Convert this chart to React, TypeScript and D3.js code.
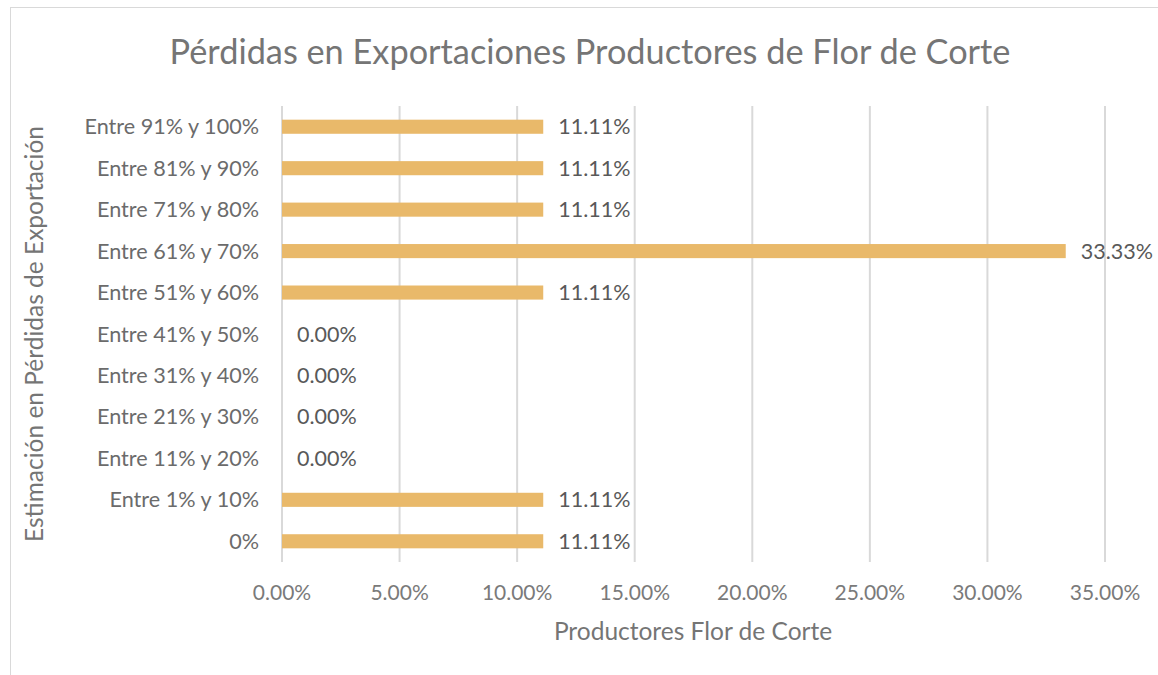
import React from "react";
import * as d3 from "d3";

const categories = [
  "0%",
  "Entre 1% y 10%",
  "Entre 11% y 20%",
  "Entre 21% y 30%",
  "Entre 31% y 40%",
  "Entre 41% y 50%",
  "Entre 51% y 60%",
  "Entre 61% y 70%",
  "Entre 71% y 80%",
  "Entre 81% y 90%",
  "Entre 91% y 100%",
];
const values = [11.11, 11.11, 0, 0, 0, 0, 11.11, 33.33, 11.11, 11.11, 11.11];
const ticks = [0, 5, 10, 15, 20, 25, 30, 35];

const title = "Pérdidas en Exportaciones Productores de Flor de Corte";
const xTitle = "Productores Flor de Corte";
const yTitle = "Estimación en Pérdidas de Exportación";

const W = 1158;
const H = 675;
const FONT = "Lato, 'Open Sans', sans-serif";

export default function App() {
  const left = 282;
  const right = 1105;
  const top = 106;
  const bottom = 562;
  const x = d3.scaleLinear().domain([0, 35]).range([left, right]);
  const y = d3
    .scaleBand<string>()
    .domain([...categories].reverse())
    .range([top, bottom])
    .paddingInner(0.66)
    .paddingOuter(0.33);

  return (
    <svg
      width={W}
      height={H}
      style={{ position: "absolute", left: 0, top: 0, background: "#fff" }}
      fontFamily={FONT}
    >
      <rect x={10.5} y={7.5} width={1160} height={680} fill="#fff" stroke="#d9d9d9" />
      <text x={590} y={64} textAnchor="middle" fontSize={34.3} fill="#757575">
        {title}
      </text>
      {ticks.map((t) => (
        <g key={t}>
          <line x1={x(t)} x2={x(t)} y1={top} y2={bottom} stroke="#d9d9d9" strokeWidth={2} />
          <text x={x(t)} y={600} textAnchor="middle" fontSize={21} fill="#7a7a7a">
            {t.toFixed(2) + "%"}
          </text>
        </g>
      ))}
      {categories.map((c, i) => {
        const yy = y(c)!;
        const bw = y.bandwidth();
        return (
          <g key={c}>
            <rect x={x(0)} y={yy} width={x(values[i]) - x(0)} height={bw} fill="#E9B96A" />
            <text
              x={left - 23}
              y={yy + bw / 2}
              dy="0.35em"
              textAnchor="end"
              fontSize={21.6}
              fill="#6b6b6b"
            >
              {c}
            </text>
            <text
              x={x(values[i]) + 15}
              y={yy + bw / 2}
              dy="0.35em"
              textAnchor="start"
              fontSize={21.5}
              fill="#595959"
            >
              {values[i].toFixed(2) + "%"}
            </text>
          </g>
        );
      })}
      <text x={693} y={640} textAnchor="middle" fontSize={24.5} fill="#757575">
        {xTitle}
      </text>
      <text
        transform={`translate(43,334) rotate(-90)`}
        textAnchor="middle"
        fontSize={24.5}
        fill="#757575"
      >
        {yTitle}
      </text>
    </svg>
  );
}
